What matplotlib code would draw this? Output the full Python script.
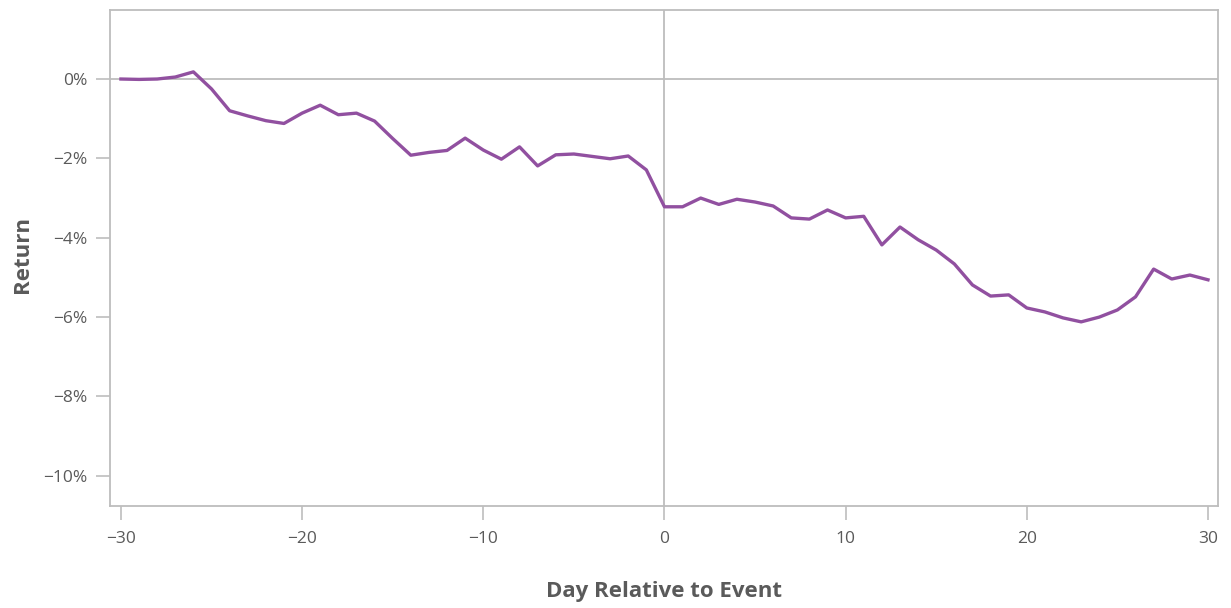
import matplotlib
matplotlib.use("Agg")
import matplotlib.pyplot as plt
from matplotlib.ticker import FuncFormatter

plt.rcParams['font.family'] = ['Open Sans', 'DejaVu Sans']

# cumulative return (%) around the event day
days = list(range(-30, 31))
ret = [0.0, -0.01, 0.0, 0.05, 0.18, -0.25, -0.8, -0.93, -1.05, -1.12,
       -0.86, -0.66, -0.9, -0.86, -1.06, -1.5, -1.92, -1.85, -1.8, -1.49,
       -1.79, -2.02, -1.71, -2.19, -1.91, -1.89, -1.95, -2.01, -1.94, -2.29,
       -3.22, -3.22, -3.0, -3.16, -3.03, -3.1, -3.2, -3.5, -3.53, -3.3,
       -3.5, -3.46, -4.18, -3.73, -4.05, -4.31, -4.66, -5.19, -5.47, -5.44,
       -5.77, -5.87, -6.02, -6.12, -6.0, -5.82, -5.49, -4.79, -5.04, -4.94,
       -5.06]
xticks = [-30, -20, -10, 0, 10, 20, 30]
yticks = [0, -2, -4, -6, -8, -10]

grey = '#bdbdbd'
txt = '#5a5a5a'

fig = plt.figure(figsize=(12.31, 6.08), dpi=100)
ax = fig.add_axes([0.0894, 0.1678, 0.9, 0.8158])

ax.axhline(0, color=grey, lw=1.3, zorder=1)
ax.axvline(0, color=grey, lw=1.3, zorder=1)
ax.plot(days, ret, color='#9150a0', lw=2.4, zorder=3)

ax.set_xlim(-30.6, 30.55)
ax.set_ylim(-10.76, 1.74)
ax.set_xticks(xticks)
ax.set_yticks(yticks)
ax.yaxis.set_major_formatter(FuncFormatter(lambda v, p: f"{int(v)}%".replace('-', '\u2212')))
ax.xaxis.set_major_formatter(FuncFormatter(lambda v, p: f"{int(v)}".replace('-', '\u2212')))

for s in ax.spines.values():
    s.set_color(grey)
    s.set_linewidth(1.3)
ax.tick_params(direction='out', length=10, width=1.2, color=grey,
               labelcolor=txt, labelsize=12.5, pad=6)
ax.tick_params(axis='x', pad=8)

ax.set_xlabel('Day Relative to Event', fontsize=16, fontweight='bold', color=txt)
ax.set_ylabel('Return', fontsize=16, fontweight='bold', color=txt)
ax.xaxis.set_label_coords(0.5, -0.173)
ax.xaxis.label.set_va('center')
ax.yaxis.set_label_coords(-0.0794, 0.506)
ax.yaxis.label.set_va('center')

fig.savefig('out.png', dpi=100)
